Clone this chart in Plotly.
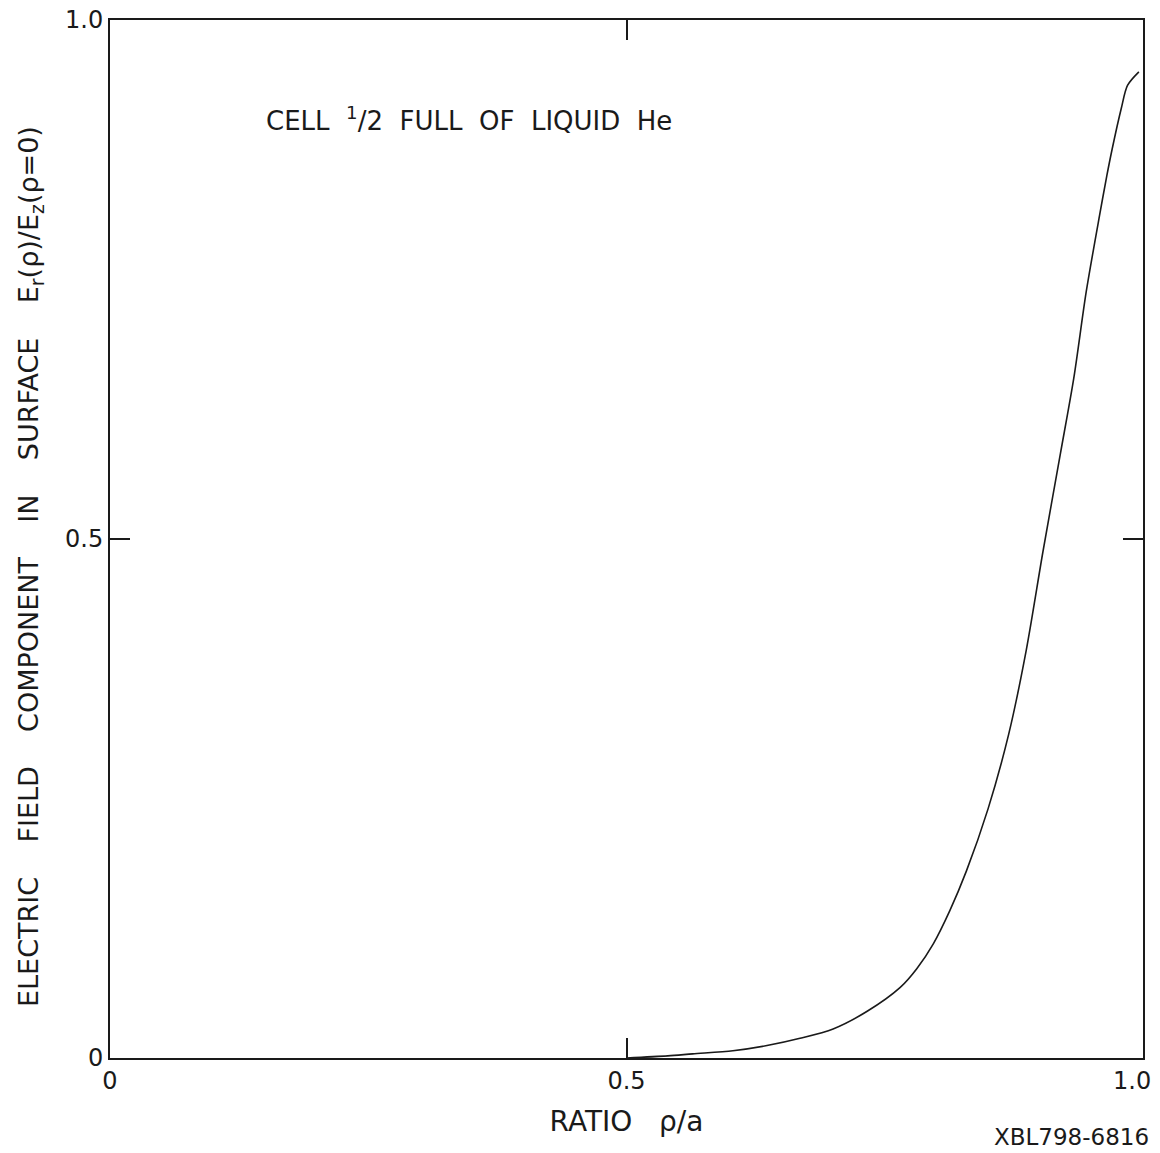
import plotly.graph_objects as go

# Radial position rho/a and normalised surface field Er(rho)/Ez(rho=0)
rho_a = [0.50, 0.540, 0.564, 0.603, 0.636, 0.668, 0.700, 0.733, 0.765, 0.781,
         0.797, 0.813, 0.829, 0.850, 0.870, 0.887, 0.903, 0.920, 0.933, 0.945,
         0.958, 0.965, 0.970, 0.979, 0.985, 0.996]
field_ratio = [0.000, 0.002, 0.004, 0.007, 0.012, 0.019, 0.028, 0.045, 0.068, 0.086,
               0.110, 0.142, 0.180, 0.240, 0.312, 0.393, 0.487, 0.582, 0.655, 0.738,
               0.812, 0.850, 0.875, 0.915, 0.937, 0.950]

x_tickvals = [0, 0.5, 1.0]
x_ticktext = ["0", "0.5", "1.0"]
y_tickvals = [0, 0.5, 1.0]
y_ticktext = ["0", "0.5", "1.0"]

FONT = "DejaVu Sans"
INK = "#1a1a1a"
TICK_FONT = dict(family=FONT, size=24, color=INK)

fig = go.Figure()
fig.add_trace(go.Scatter(
    x=rho_a, y=field_ratio, mode="lines",
    line=dict(color=INK, width=1.6, shape="spline", smoothing=0.8),
    showlegend=False, hoverinfo="skip",
))

axis_common = dict(
    showline=True, linecolor=INK, linewidth=2, mirror="ticks",
    ticks="inside", ticklen=20, tickwidth=2, tickcolor=INK,
    showgrid=False, zeroline=False, ticklabeloverflow="allow",
    automargin=False, tickfont=TICK_FONT,
)

# the last x label sits left of its tick so it stays on the page
fig.update_xaxes(
    range=[0, 1.0], tickvals=x_tickvals,
    ticktext=[t if v < 1.0 else "" for v, t in zip(x_tickvals, x_ticktext)],
    title=dict(text="RATIO   ρ/a", font=dict(family=FONT, size=28, color=INK), standoff=18),
    **axis_common,
)
fig.add_annotation(
    x=x_tickvals[-1], y=0, xref="x", yref="paper", xanchor="right", yanchor="top",
    xshift=10, yshift=-7, text=x_ticktext[-1], showarrow=False, font=TICK_FONT,
)

fig.update_yaxes(range=[0, 1.0], tickvals=y_tickvals, ticktext=y_ticktext, **axis_common)

# vertical axis title
fig.add_annotation(
    x=0, y=0.473, xref="paper", yref="paper", xanchor="center", yanchor="middle",
    xshift=-80, textangle=-90, showarrow=False,
    text="ELECTRIC    FIELD    COMPONENT    IN    SURFACE    E<sub>r</sub>(ρ)/E<sub>z</sub>(ρ=0)",
    font=dict(family=FONT, size=27, color=INK),
)

fig.add_annotation(
    x=0.348, y=0.905, xref="x", yref="y", xanchor="center", yanchor="middle",
    text="CELL  <sup>1</sup>/2  FULL  OF  LIQUID  He", showarrow=False,
    font=dict(family=FONT, size=26, color=INK),
)
fig.add_annotation(
    x=1.0, y=0.0, xref="paper", yref="paper", xanchor="right", yanchor="top",
    yshift=-64, xshift=8,
    text="XBL798-6816", showarrow=False,
    font=dict(family=FONT, size=23, color=INK),
)

fig.update_layout(
    width=1160, height=1153,
    margin=dict(l=110, r=17, t=20, b=95),
    paper_bgcolor="white", plot_bgcolor="white",
)

fig.write_html("out.html")
